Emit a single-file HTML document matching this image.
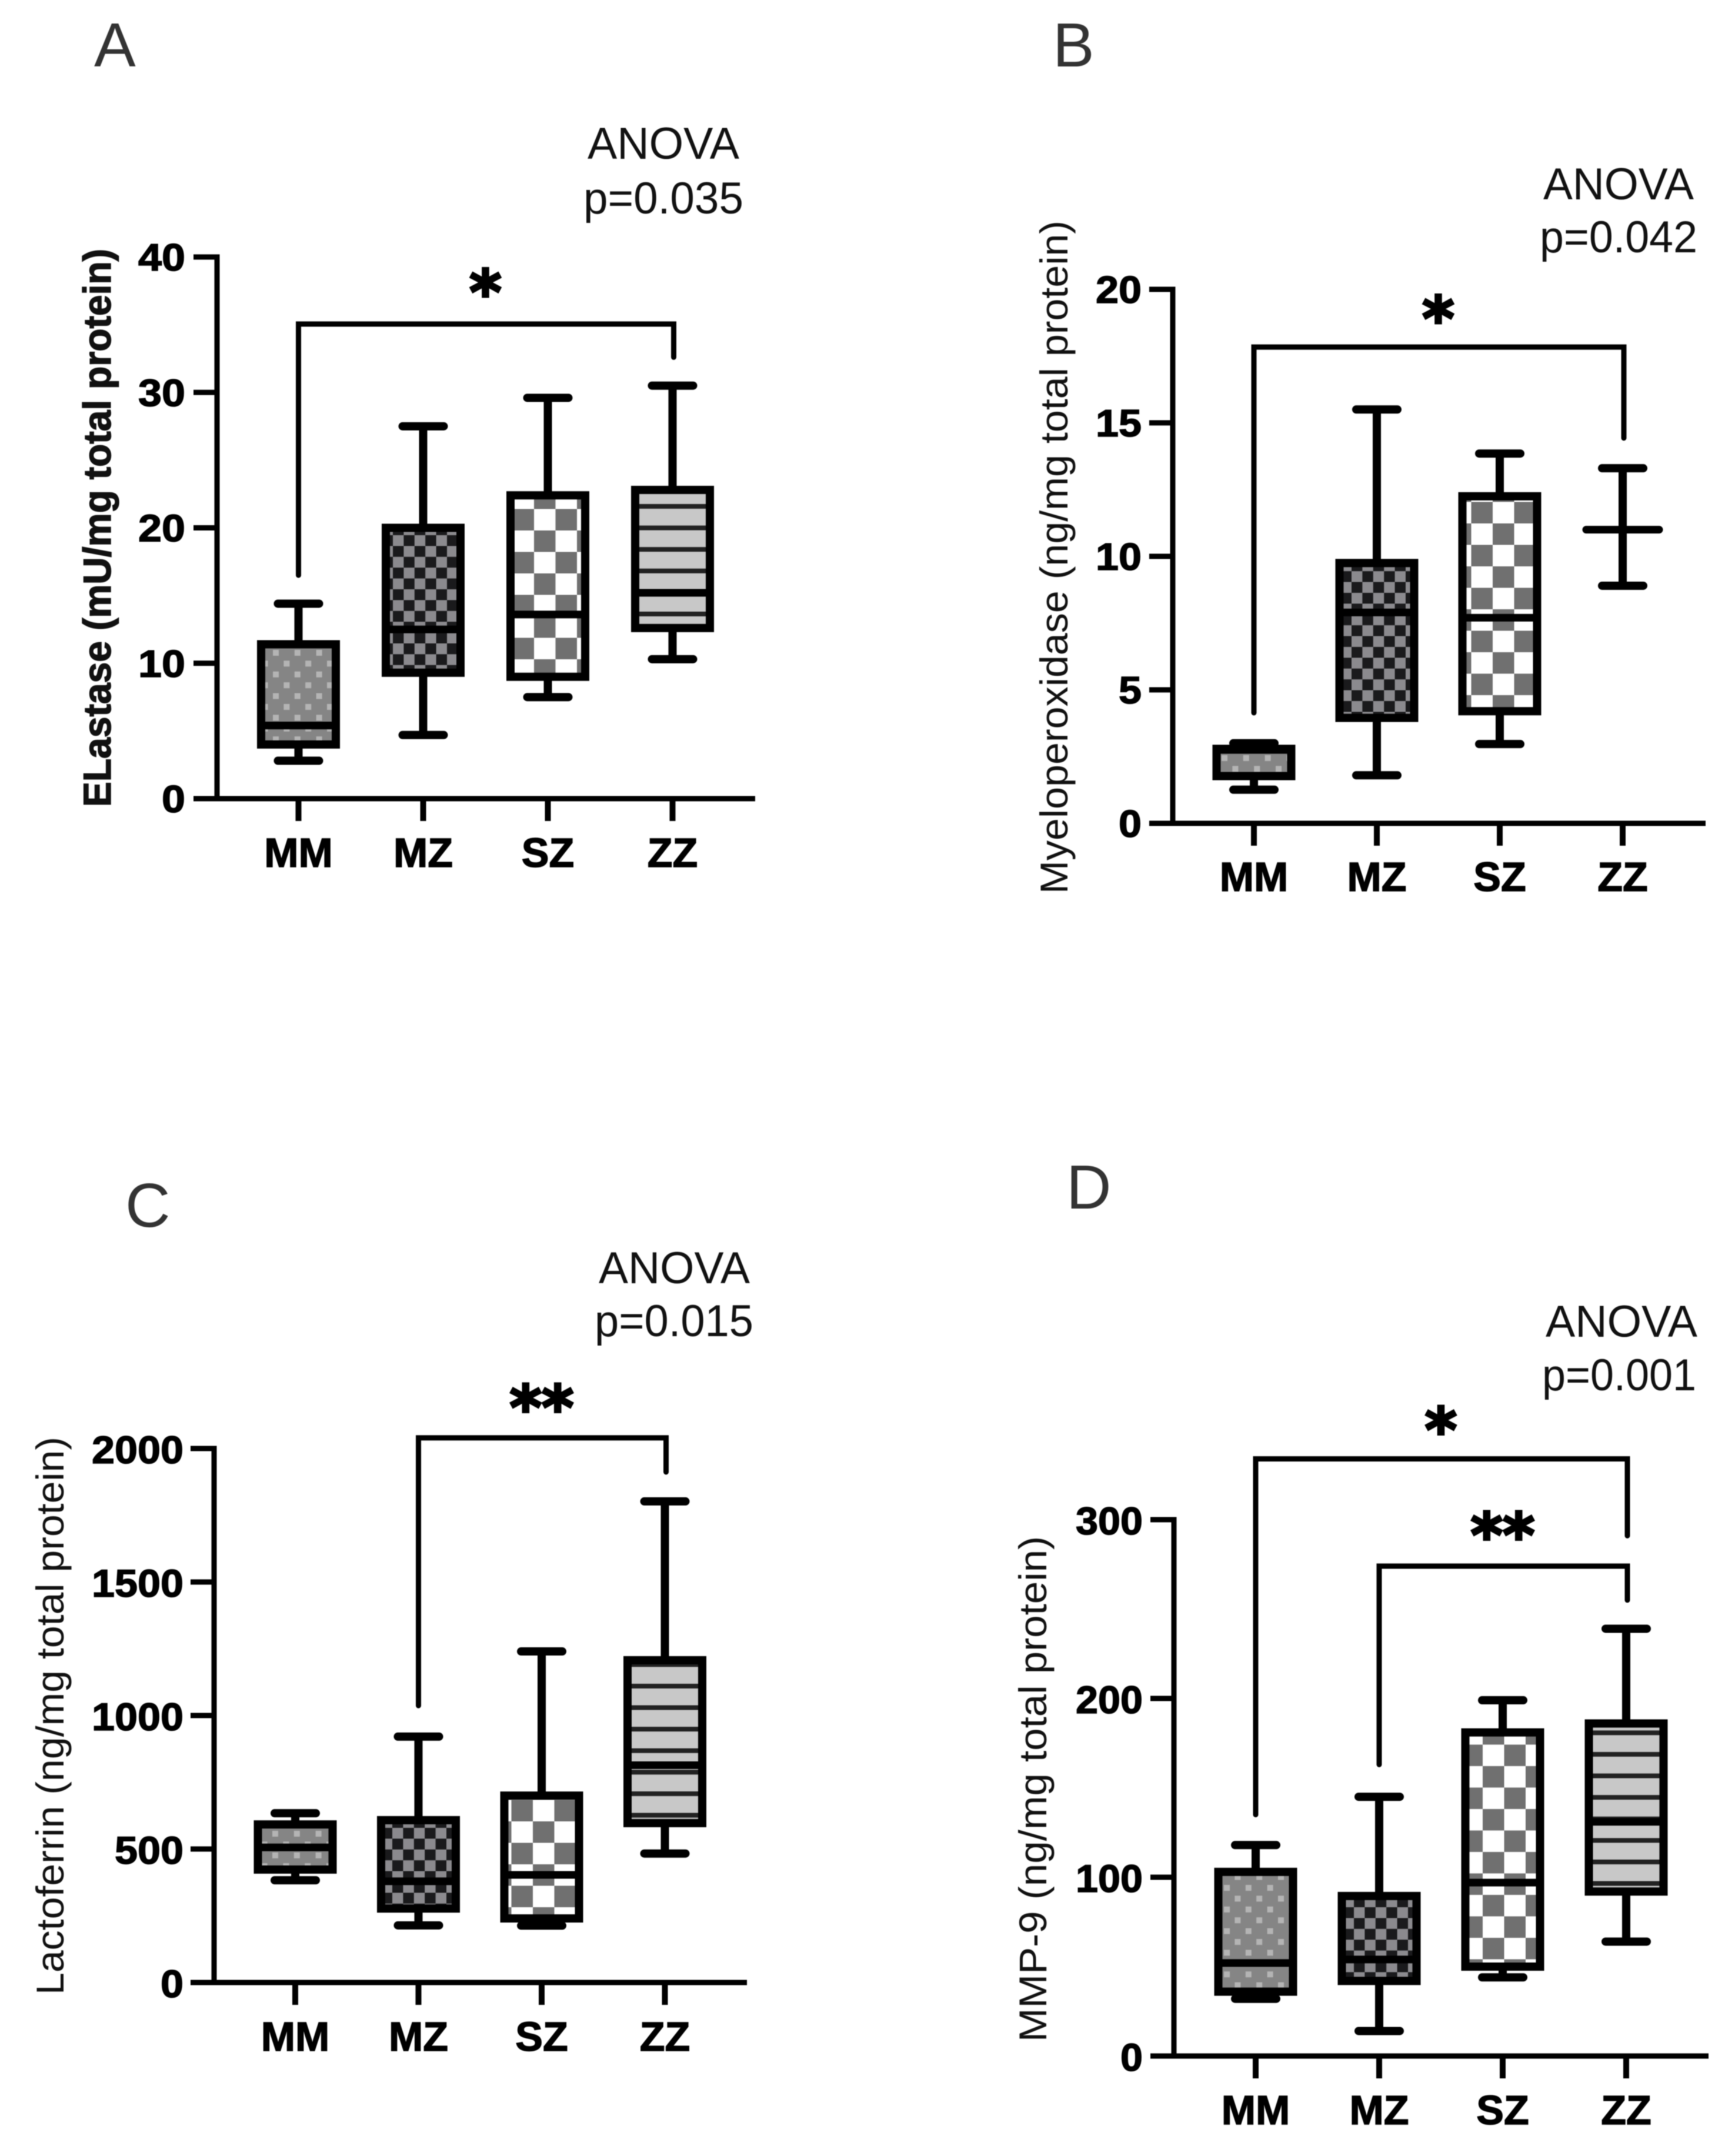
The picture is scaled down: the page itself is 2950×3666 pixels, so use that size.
<!DOCTYPE html>
<html lang="en">
<head>
<meta charset="utf-8">
<title>Protease levels by AAT genotype</title>
<style>
html,body{margin:0;padding:0;background:#fff}
svg{display:block;filter:blur(0.7px)}
text{font-family:"Liberation Sans",Arial,sans-serif}
</style>
</head>
<body>
<svg id="figure" xmlns="http://www.w3.org/2000/svg" width="2950" height="3666" viewBox="0 0 2950 3666">
<rect x="0" y="0" width="2950" height="3666" fill="#ffffff"/>
<defs id="defs"></defs>
</svg>
<script>
// ---------- chart data ----------
const categories = ['MM', 'MZ', 'SZ', 'ZZ'];

const elastaseTicks = [0, 10, 20, 30, 40];
const elastaseLow = [2.8, 4.7, 7.5, 10.3];
const elastaseQ1 = [4.0, 9.3, 9.0, 12.6];
const elastaseMedian = [5.4, 12.5, 13.6, 15.2];
const elastaseQ3 = [11.4, 20.0, 22.4, 22.8];
const elastaseHigh = [14.4, 27.5, 29.6, 30.5];
const elastaseBrackets = [[0, 3, 35.05, 16.5, 32.6]];
const elastaseStars = [['*', 1.5, 37.9]];

const mpoTicks = [0, 5, 10, 15, 20];
const mpoLow = [1.26, 1.8, 2.97, 8.9];
const mpoQ1 = [1.77, 3.95, 4.2, 11.0];
const mpoMedian = [2.75, 7.9, 7.7, 11.0];
const mpoQ3 = [2.79, 9.75, 12.25, 11.0];
const mpoHigh = [3.0, 15.5, 13.85, 13.3];
const mpoBrackets = [[0, 3, 17.84, 4.14, 14.43]];
const mpoStars = [['*', 1.5, 19.15]];

const lactoferrinTicks = [0, 500, 1000, 1500, 2000];
const lactoferrinLow = [383, 214, 213, 483];
const lactoferrinQ1 = [423, 277, 240, 597];
const lactoferrinMedian = [506, 379, 403, 814];
const lactoferrinQ3 = [592, 608, 700, 1207];
const lactoferrinHigh = [634, 921, 1240, 1802];
const lactoferrinBrackets = [[1, 3, 2040, 1037, 1912]];
const lactoferrinStars = [['**', 2.0, 2178]];

const mmpTicks = [0, 100, 200, 300];
const mmpLow = [32, 14, 44, 64];
const mmpQ1 = [36, 42, 50, 92];
const mmpMedian = [52, 54, 97, 131];
const mmpQ3 = [103, 89.5, 181, 186];
const mmpHigh = [118, 145, 199, 239];
const mmpBrackets = [[0, 3, 334, 135, 291], [1, 3, 274, 163, 255]];
const mmpStars = [['*', 1.5, 354], ['**', 2.0, 295]];

// ---------- layout ----------
const panels = [
  {key:'a', letter:'A', letterX:160, letterY:113,
   ticks:elastaseTicks, low:elastaseLow, q1:elastaseQ1, med:elastaseMedian, q3:elastaseQ3, high:elastaseHigh,
   brackets:elastaseBrackets, stars:elastaseStars,
   axisX:369, axisRight:1284, top:437, bottom:1358, x0:507.5, dx:212, tickRight:315, tickFs:65, digitW:40, tickDy:23,
   title:'ELastase (mU/mg total protein)', titleBold:true, titleX:188, titleY:1372, titleLen:949,
   anovaX:999, anovaY:270, anovaLen:258, p:'p=0.035', pX:992, pY:363, pLen:272,
   dots:[469,1110], small:[668,910], big:[908,829], stripe:861, catY:1474},
  {key:'b', letter:'B', letterX:1790, letterY:113,
   ticks:mpoTicks, low:mpoLow, q1:mpoQ1, med:mpoMedian, q3:mpoQ3, high:mpoHigh,
   brackets:mpoBrackets, stars:mpoStars,
   axisX:1994, axisRight:2900, top:492, bottom:1400, x0:2132, dx:209, tickRight:1941, tickFs:65, digitW:39, tickDy:23,
   title:'Myeloperoxidase (ng/mg total protein)', titleBold:false, titleX:1815, titleY:1520, titleLen:1145,
   anovaX:2624, anovaY:339, anovaLen:256, p:'p=0.042', pX:2618, pY:429, pLen:268,
   dots:[2082,1289], small:[2298,1192], big:[2538,890], stripe:900, catY:1515},
  {key:'c', letter:'C', letterX:213, letterY:2086,
   ticks:lactoferrinTicks, low:lactoferrinLow, q1:lactoferrinQ1, med:lactoferrinMedian, q3:lactoferrinQ3, high:lactoferrinHigh,
   brackets:lactoferrinBrackets, stars:lactoferrinStars,
   axisX:364, axisRight:1270, top:2463, bottom:3371, x0:502, dx:209.5, tickRight:312, tickFs:66, digitW:39, tickDy:25,
   title:'Lactoferrin (ng/mg total protein)', titleBold:false, titleX:108, titleY:3392, titleLen:949,
   anovaX:1018, anovaY:2182, anovaLen:257, p:'p=0.015', pX:1011, pY:2272, pLen:270,
   dots:[468,3118], small:[667,3108], big:[906,3097], stripe:2867, catY:3487},
  {key:'d', letter:'D', letterX:1813, letterY:2055,
   ticks:mmpTicks, low:mmpLow, q1:mmpQ1, med:mmpMedian, q3:mmpQ3, high:mmpHigh,
   brackets:mmpBrackets, stars:mmpStars,
   axisX:1996, axisRight:2905, top:2584, bottom:3496, x0:2135, dx:210, tickRight:1943, tickFs:66, digitW:38, tickDy:25,
   title:'MMP-9 (ng/mg total protein)', titleBold:false, titleX:1779, titleY:3472, titleLen:860,
   anovaX:2628, anovaY:2273, anovaLen:258, p:'p=0.001', pX:2622, pY:2364, pLen:262,
   dots:[2086,3210], small:[2302,3243], big:[2521,3003], stripe:2983, catY:3612}
];

const NS = 'http://www.w3.org/2000/svg';
const svg = document.getElementById('figure');
const defs = document.getElementById('defs');

function make(parent, tag, attrs, name) {
  const el = document.createElementNS(NS, tag);
  for (const k in attrs) el.setAttribute(k, attrs[k]);
  
  
  parent.appendChild(el);
  return el;
}
function line(parent, x1, y1, x2, y2, w, name, cap) {
  return make(parent, 'line', {x1:x1, y1:y1, x2:x2, y2:y2, stroke:'#000', 'stroke-width':w, 'stroke-linecap':cap || 'butt'}, name);
}
function text(parent, str, attrs, name) {
  const el = make(parent, 'text', attrs, name);
  el.textContent = str;
  return el;
}

function addPattern(id, x, y, w, h, bg, cells) {
  const p = make(defs, 'pattern', {id:id, patternUnits:'userSpaceOnUse', x:x, y:y, width:w, height:h}, id);
  make(p, 'rect', {x:0, y:0, width:w, height:h, fill:bg}, id + '-bg');
  cells.forEach(function (c) {
    make(p, 'rect', {x:c[0], y:c[1], width:c[2], height:c[3], fill:c[4]}, id + '-cell');
  });
}

function drawPanel(P) {
  const g = make(svg, 'g', {}, 'panel-' + P.key);
  const yMax = P.ticks[P.ticks.length - 1];
  const y = function (v) { return P.bottom - (v / yMax) * (P.bottom - P.top); };
  const x = function (i) { return P.x0 + i * P.dx; };

  // fills
  const dotId = 'dots-' + P.key, smallId = 'small-check-' + P.key, bigId = 'big-check-' + P.key, stripeId = 'stripes-' + P.key;
  addPattern(dotId, P.dots[0] - 5, P.dots[1] - 5, 36.8, 36.8, '#858585',
    [[0, 0, 10, 10, '#b4b4b4'], [18.4, 18.4, 10, 10, '#b4b4b4']]);
  addPattern(smallId, P.small[0], P.small[1], 36.8, 36.8, '#1a1a1c',
    [[0, 0, 18.4, 18.4, '#8b8a8e'], [18.4, 18.4, 18.4, 18.4, '#8b8a8e']]);
  addPattern(bigId, P.big[0], P.big[1], 73, 73, '#ffffff',
    [[0, 0, 36.5, 36.5, '#707070'], [36.5, 36.5, 36.5, 36.5, '#707070']]);
  addPattern(stripeId, 0, P.stripe - 4, 20, 36.6, '#c8c8c8',
    [[0, 0, 20, 8, '#222222']]);
  const fills = [dotId, smallId, bigId, stripeId];

  // panel letter + annotation
  text(g, P.letter, {x:P.letterX, y:P.letterY, 'font-size':106, fill:'#333333'}, 'panel-letter-' + P.key);
  text(g, 'ANOVA', {x:P.anovaX, y:P.anovaY, 'font-size':76, fill:'#111111', textLength:P.anovaLen, lengthAdjust:'spacingAndGlyphs'}, 'anova-label');
  text(g, P.p, {x:P.pX, y:P.pY, 'font-size':76, fill:'#111111', textLength:P.pLen, lengthAdjust:'spacingAndGlyphs'}, 'p-value-label');

  // y title
  text(g, P.title, {
    transform:'translate(' + P.titleX + ',' + P.titleY + ') rotate(-90)',
    x:0, y:0, 'font-size':66, 'font-weight':P.titleBold ? 'bold' : 'normal', fill:'#111111',
    stroke:P.titleBold ? '#111111' : 'none', 'stroke-width':P.titleBold ? 1.5 : 0,
    textLength:P.titleLen, lengthAdjust:'spacingAndGlyphs'
  }, 'y-axis-title');

  // axes
  line(g, P.axisX, P.top - 4.5, P.axisX, P.bottom + 4, 9, 'y-axis-line');
  line(g, P.axisX - 40, P.bottom, P.axisRight, P.bottom, 9, 'x-axis-line');
  P.ticks.forEach(function (t) {
    const ty = y(t);
    line(g, P.axisX - 40, ty, P.axisX, ty, 9, 'y-tick');
    const label = String(t);
    text(g, label, {
      x:P.tickRight, y:ty + P.tickDy, 'text-anchor':'end', 'font-size':P.tickFs, 'font-weight':'bold', fill:'#000',
      stroke:'#000', 'stroke-width':1.5,
      textLength:label.length * P.digitW, lengthAdjust:'spacingAndGlyphs'
    }, 'y-tick-label');
  });
  categories.forEach(function (c, i) {
    line(g, x(i), P.bottom, x(i), P.bottom + 38, 10, 'x-tick');
    text(g, c, {x:x(i), y:P.catY, 'text-anchor':'middle', 'font-size':70, 'font-weight':'bold', fill:'#000', stroke:'#000', 'stroke-width':1.5}, 'category-label-' + c.toLowerCase());
  });

  // boxes
  const halfBox = 63.5, halfCap = 35;
  categories.forEach(function (c, i) {
    const name = c.toLowerCase();
    const cx = x(i);
    const box = make(g, 'g', {}, 'box-' + name);
    line(box, cx, y(P.high[i]), cx, y(P.q3[i]), 14, 'whisker-upper-' + name);
    line(box, cx, y(P.q1[i]), cx, y(P.low[i]), 14, 'whisker-lower-' + name);
    line(box, cx - halfCap, y(P.high[i]), cx + halfCap, y(P.high[i]), 14, 'cap-upper-' + name, 'round');
    line(box, cx - halfCap, y(P.low[i]), cx + halfCap, y(P.low[i]), 14, 'cap-lower-' + name, 'round');
    if (P.q3[i] > P.q1[i]) {
      make(box, 'rect', {
        x:cx - halfBox, y:y(P.q3[i]), width:2 * halfBox, height:y(P.q1[i]) - y(P.q3[i]),
        fill:'url(#' + fills[i] + ')', stroke:'#000', 'stroke-width':14
      }, 'iqr-box-' + name);
      line(box, cx - halfBox, y(P.med[i]), cx + halfBox, y(P.med[i]), 13, 'median-' + name);
    } else {
      line(box, cx - 62, y(P.med[i]), cx + 62, y(P.med[i]), 13, 'median-' + name, 'round');
    }
  });

  // significance brackets
  P.brackets.forEach(function (b) {
    const x1 = x(b[0]), x2 = x(b[1]) + 2;
    make(g, 'path', {
      d:'M' + x1 + ' ' + y(b[3]) + 'V' + y(b[2]) + 'H' + x2 + 'V' + y(b[4]),
      fill:'none', stroke:'#000', 'stroke-width':9, 'stroke-linecap':'round', 'stroke-linejoin':'miter'
    }, 'significance-bracket');
  });
  P.stars.forEach(function (s) {
    text(g, s[0], {
      x:x(0) + s[1] * P.dx, y:y(s[2]) + 48, 'text-anchor':'middle', 'font-size':104, 'font-weight':'bold',
      style:'font-family:"DejaVu Sans",sans-serif', fill:'#000', stroke:'#000', 'stroke-width':4
    }, 'significance-stars');
  });
}

panels.forEach(drawPanel);
</script>
</body>
</html>
